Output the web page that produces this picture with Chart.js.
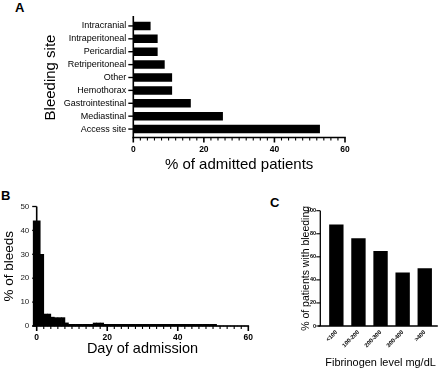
<!DOCTYPE html>
<html>
<head>
<meta charset="utf-8">
<script src="https://cdn.jsdelivr.net/npm/chart.js@4/dist/chart.umd.min.js"></script>
<style>
  html, body { margin: 0; padding: 0; background: #fff; }
  body { width: 440px; height: 371px; position: relative; overflow: hidden; font-family: "Liberation Sans", Arial, sans-serif; }
  canvas { position: absolute; }
  .panel { position: absolute; font-weight: bold; font-size: 13px; line-height: 13px; color: #000; }
</style>
</head>
<body>
<div class="panel" style="left:15px;top:1px;">A</div>
<div class="panel" style="left:1px;top:189px;">B</div>
<div class="panel" style="left:270px;top:196px;">C</div>
<canvas id="cA" width="440" height="185" style="left:0;top:0;"></canvas>
<canvas id="cB" width="270" height="186" style="left:0;top:185px;"></canvas>
<canvas id="cC" width="170" height="186" style="left:270px;top:185px;"></canvas>
<script>
// ---------- Panel A data ----------
const sites = ['Intracranial', 'Intraperitoneal', 'Pericardial', 'Retriperitoneal', 'Other', 'Hemothorax', 'Gastrointestinal', 'Mediastinal', 'Access site'];
const sitePct = [4.9, 6.9, 6.9, 8.9, 11.0, 11.0, 16.3, 25.4, 52.9];
const aTicks = [0, 20, 40, 60];

// ---------- Panel B data (1-day bins, given by bin start day) ----------
const binStartDay = [-1, 0, 1, 2, 3, 4, 5, 6, 7, 8, 9, 10, 11, 12, 13, 14, 15, 16, 17, 18, 19, 20, 21, 22, 23, 24, 25, 26, 27, 28, 29, 30, 31, 32, 33, 34, 35, 36, 37, 38, 39, 40, 41, 42, 43, 44, 45, 46, 47, 48, 49, 50, 51, 52, 53, 54, 55, 56, 57, 58, 59];
const bleedPct = [44, 44, 30, 5, 5, 3.7, 3.5, 3.5, 3.5, 1.3, 0.7, 0.7, 0.7, 0.7, 0.7, 0.7, 0.7, 1.25, 1.25, 1.25, 0.7, 0.7, 0.7, 0.7, 0.7, 0.7, 0.7, 0.7, 0.7, 0.7, 0.7, 0.7, 0.7, 0.7, 0.7, 0.7, 0.7, 0.7, 0.7, 0.7, 0.7, 0.7, 0.7, 0.7, 0.7, 0.7, 0.7, 0.7, 0.7, 0.7, 0.7, 0.7, 0, 0, 0, 0, 0, 0, 0, 0, 0];
const bXTicks = [0, 20, 40, 60];
const bYTicks = [0, 10, 20, 30, 40, 50];

// ---------- Panel C data ----------
const fibLevels = ['<100', '100-200', '200-300', '300-400', '>400'];
const fibPct = [88, 76, 65, 46.5, 50];
const cYTicks = [0, 20, 40, 60, 80, 100];

const FONT = '"Liberation Sans", Arial, sans-serif';
const INK = '#000';

function seg(ctx, x1, y1, x2, y2) { ctx.beginPath(); ctx.moveTo(x1, y1); ctx.lineTo(x2, y2); ctx.stroke(); }

// ---------------- Panel A ----------------
new Chart(document.getElementById('cA'), {
  type: 'bar',
  data: { labels: sites, datasets: [{ data: sitePct, backgroundColor: '#000', borderWidth: 0, barPercentage: 0.66, categoryPercentage: 1 }] },
  options: {
    indexAxis: 'y', responsive: false, animation: false, devicePixelRatio: 1,
    layout: { padding: { left: 0, top: 19.5, right: 95, bottom: 0 } },
    plugins: { legend: { display: false }, tooltip: { enabled: false } },
    scales: {
      x: {
        type: 'linear', min: 0, max: 60,
        afterBuildTicks: s => { s.ticks = aTicks.map(v => ({ value: v })); },
        afterFit: s => { s.height = 49.5; },
        grid: { display: false, drawTicks: false }, border: { display: false },
        ticks: { font: { family: FONT, size: 8.5, weight: 'bold' }, color: INK, padding: 9.4, maxRotation: 0, autoSkip: false },
        title: { display: true, text: '% of admitted patients', font: { family: FONT, size: 15 }, color: INK, padding: { top: 0, bottom: 11 } }
      },
      y: {
        afterFit: s => { s.width = 133.3; },
        grid: { display: false, drawTicks: false }, border: { display: false },
        ticks: { font: { family: FONT, size: 9 }, color: INK, padding: 7, autoSkip: false },
        title: { display: true, text: 'Bleeding site', font: { family: FONT, size: 15 }, color: INK, padding: { top: 42, bottom: 0 } }
      }
    }
  },
  plugins: [{
    id: 'axesA',
    afterDraw(chart) {
      const { ctx, chartArea: a, scales: { x, y } } = chart;
      ctx.save(); ctx.strokeStyle = INK;
      const axY = a.bottom + 2, x0 = x.getPixelForValue(0);
      ctx.lineWidth = 1.6;
      seg(ctx, x0, a.top - 3.5, x0, axY + 0.8);
      seg(ctx, x0 - 0.8, axY, x.getPixelForValue(60) + 0.8, axY);
      for (let v = 0; v <= 60; v += 2) {
        const major = aTicks.includes(v);
        ctx.lineWidth = major ? 1.6 : 1.1;
        const px = x.getPixelForValue(v);
        seg(ctx, px, axY, px, axY + (major ? 5 : 3));
      }
      ctx.lineWidth = 1.4;
      sites.forEach((s, i) => { const py = y.getPixelForValue(i); seg(ctx, x0 - 5, py, x0, py); });
      ctx.restore();
    }
  }]
});

// ---------------- Panel B ----------------
new Chart(document.getElementById('cB'), {
  type: 'bar',
  data: { datasets: [{ data: binStartDay.map((d, i) => ({ x: d + 0.5, y: bleedPct[i] })), backgroundColor: '#000', borderWidth: 0, barPercentage: 1, categoryPercentage: 1, clip: false }] },
  options: {
    responsive: false, animation: false, devicePixelRatio: 1,
    layout: { padding: { left: 0, top: 21.5, right: 21.7, bottom: 0 } },
    plugins: { legend: { display: false }, tooltip: { enabled: false } },
    scales: {
      x: {
        type: 'linear', min: 0, max: 60, offset: false,
        afterBuildTicks: s => { s.ticks = bXTicks.map(v => ({ value: v })); },
        afterFit: s => { s.height = 45; },
        grid: { display: false, drawTicks: false }, border: { display: false },
        ticks: { font: { family: FONT, size: 8.5, weight: 'bold' }, color: INK, padding: 6.9, maxRotation: 0, autoSkip: false },
        title: { display: true, text: 'Day of admission', font: { family: FONT, size: 14.5 }, color: INK, padding: { top: 0, bottom: 13.3 } }
      },
      y: {
        min: 0, max: 50,
        afterBuildTicks: s => { s.ticks = bYTicks.map(v => ({ value: v })); },
        afterFit: s => { s.width = 36.7; },
        grid: { display: false, drawTicks: false }, border: { display: false },
        ticks: { font: { family: FONT, size: 8 }, color: '#222', padding: 7.4, autoSkip: false },
        title: { display: true, text: '% of bleeds', font: { family: FONT, size: 13.5 }, color: INK, padding: { top: 1, bottom: 0 } }
      }
    }
  },
  plugins: [{
    id: 'axesB',
    afterDraw(chart) {
      const { ctx, chartArea: a, scales: { x, y } } = chart;
      ctx.save(); ctx.strokeStyle = INK;
      const axY = y.getPixelForValue(0), x0 = x.getPixelForValue(0);
      ctx.lineWidth = 1.6;
      seg(ctx, x0, y.getPixelForValue(50), x0, axY);
      seg(ctx, x.getPixelForValue(-1.25), axY, x.getPixelForValue(60) + 0.8, axY);
      for (let v = 0; v <= 60; v += 2) {
        const major = bXTicks.includes(v);
        ctx.lineWidth = major ? 1.6 : 1.1;
        const px = x.getPixelForValue(v);
        seg(ctx, px, axY, px, axY + (major ? 5 : 3));
      }
      ctx.lineWidth = 1.3;
      bYTicks.forEach(v => { const py = y.getPixelForValue(v); seg(ctx, x0 - 4.5, py, x0, py); });
      ctx.restore();
    }
  }]
});

// ---------------- Panel C ----------------
new Chart(document.getElementById('cC'), {
  type: 'bar',
  data: { labels: fibLevels, datasets: [{ data: fibPct, backgroundColor: '#000', borderWidth: 0, barPercentage: 0.65, categoryPercentage: 1 }] },
  options: {
    responsive: false, animation: false, devicePixelRatio: 1,
    layout: { padding: { left: 0, top: 25.7, right: 4.2, bottom: 0 } },
    plugins: { legend: { display: false }, tooltip: { enabled: false } },
    scales: {
      x: {
        afterFit: s => { s.height = 45; },
        grid: { display: false, drawTicks: false }, border: { display: false },
        ticks: { font: { family: FONT, size: 5.8, weight: 'bold' }, color: INK, padding: 3, minRotation: 45, maxRotation: 45, autoSkip: false },
        title: { display: true, text: 'Fibrinogen level mg/dL', font: { family: FONT, size: 11.5 }, color: INK, padding: { top: 0, bottom: 1.1 } }
      },
      y: {
        min: 0, max: 100,
        afterBuildTicks: s => { s.ticks = cYTicks.map(v => ({ value: v })); },
        afterFit: s => { s.width = 55.3; },
        grid: { display: false, drawTicks: false }, border: { display: false },
        ticks: { font: { family: FONT, size: 5.5, weight: 'bold' }, color: INK, padding: 9.3, autoSkip: false },
        title: { display: true, text: '% of patients with bleeding', font: { family: FONT, size: 10.5 }, color: INK, padding: { top: 29.5, bottom: 0 } }
      }
    }
  },
  plugins: [{
    id: 'axesC',
    afterDraw(chart) {
      const { ctx, chartArea: a, scales: { x, y } } = chart;
      ctx.save(); ctx.strokeStyle = INK;
      const axY = y.getPixelForValue(0), yx = a.left - 5;
      ctx.lineWidth = 1.3;
      seg(ctx, yx, y.getPixelForValue(100), yx, axY);
      seg(ctx, a.left - 7, axY, a.right + 2, axY);
      ctx.lineWidth = 1.1;
      cYTicks.forEach(v => { const py = y.getPixelForValue(v); seg(ctx, yx - 4, py, yx, py); });
      ctx.restore();
    }
  }]
});
</script>
</body>
</html>
